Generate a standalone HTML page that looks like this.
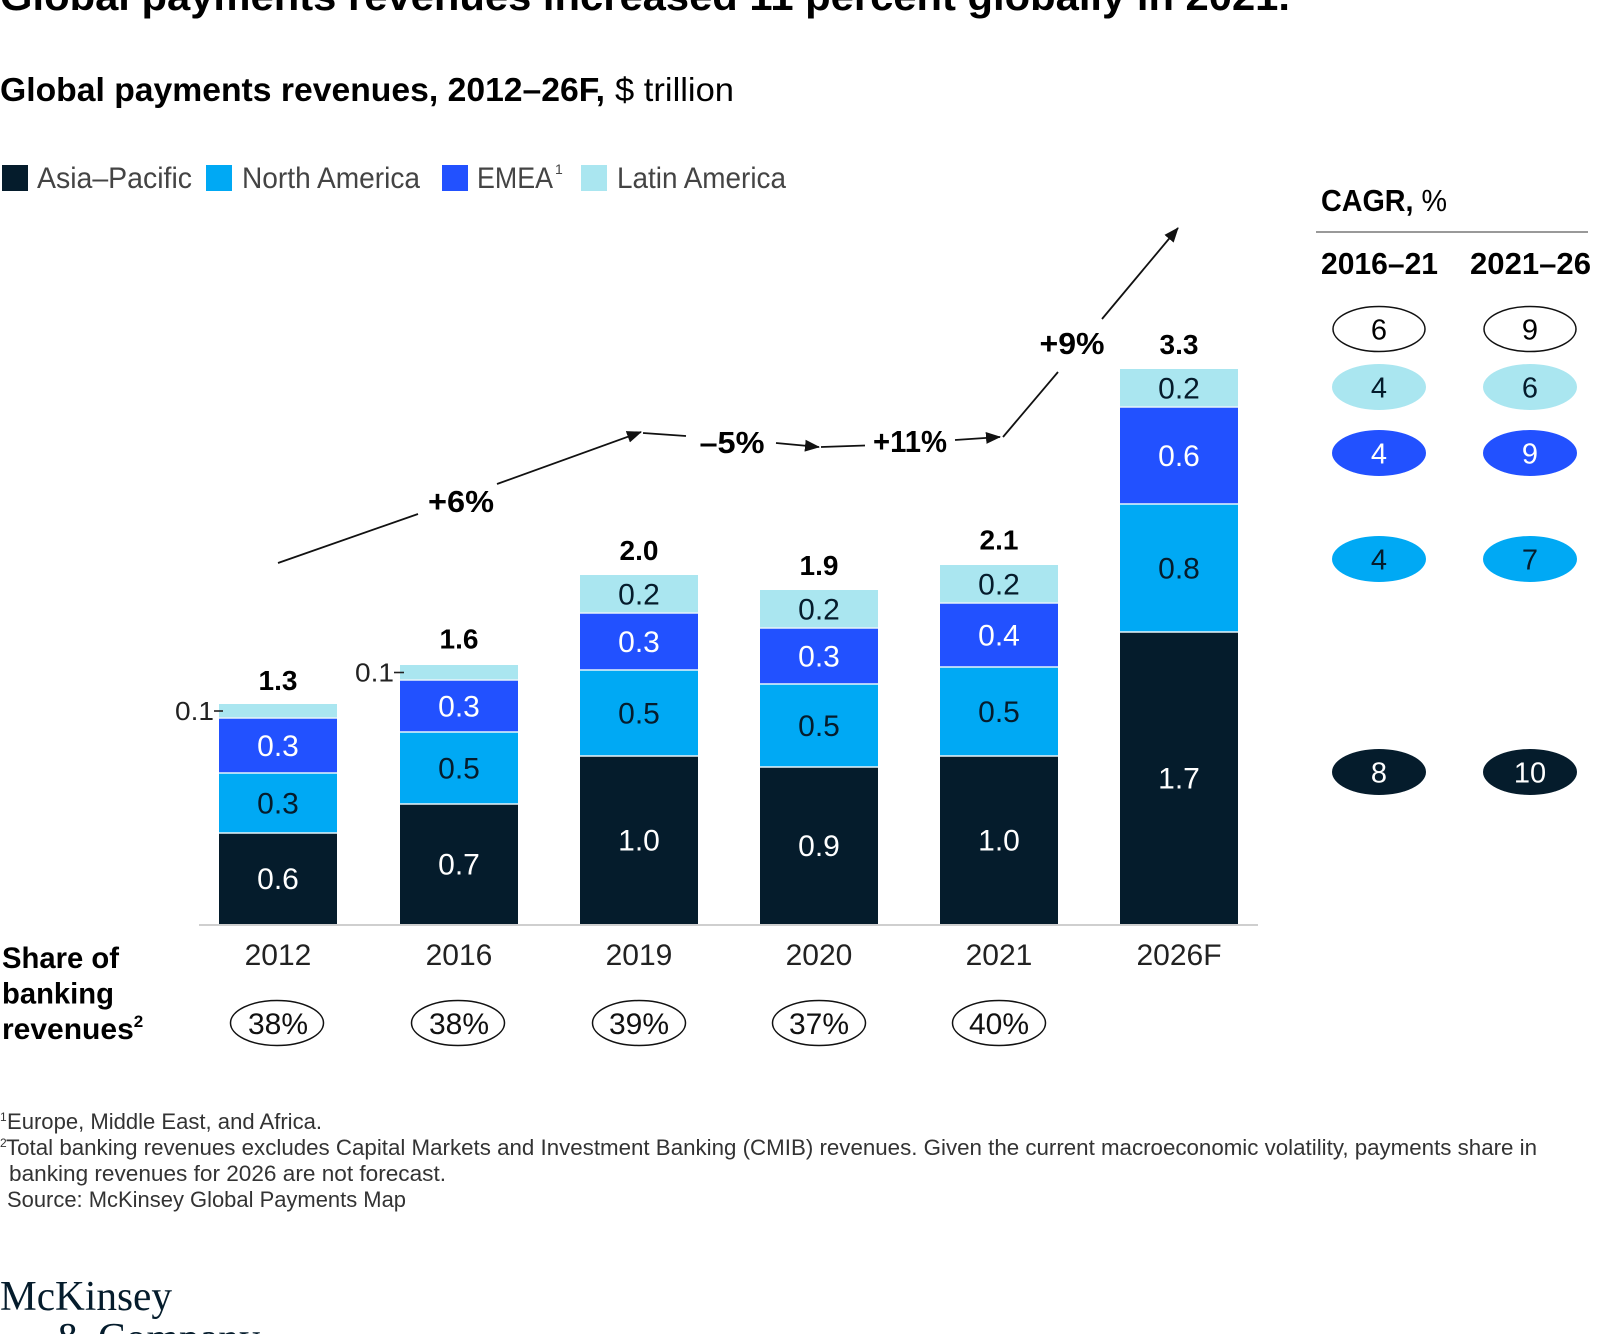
<!DOCTYPE html>
<html>
<head>
<meta charset="utf-8">
<style>
html,body{margin:0;padding:0;background:#fff;}
svg{display:block;}
text{font-family:"Liberation Sans",Arial,sans-serif;}
</style>
</head>
<body>
<svg width="1600" height="1334" viewBox="0 0 1600 1334" xmlns="http://www.w3.org/2000/svg">
<defs>
<marker id="ah" markerWidth="15" markerHeight="12" refX="14" refY="6" orient="auto" markerUnits="userSpaceOnUse">
<path d="M0,0 L15,6 L0,12 z" fill="#111"/>
</marker>
</defs>
<rect width="1600" height="1334" fill="#fff"/>

<!-- Title (cut off) -->
<text x="0" y="10" font-size="40" font-weight="bold" fill="#000" textLength="1290" lengthAdjust="spacingAndGlyphs">Global payments revenues increased 11 percent globally in 2021.</text>

<!-- Subtitle -->
<text x="0" y="101" font-size="33" font-weight="bold" fill="#000" textLength="605" lengthAdjust="spacingAndGlyphs">Global payments revenues, 2012–26F,</text>
<text x="615" y="101" font-size="33" fill="#000" textLength="119" lengthAdjust="spacingAndGlyphs">$ trillion</text>

<!-- Legend -->
<rect x="2" y="165" width="26" height="26" fill="#051c2c"/>
<text x="37" y="188" font-size="30" fill="#444" textLength="155" lengthAdjust="spacingAndGlyphs">Asia–Pacific</text>
<rect x="206" y="165" width="26" height="26" fill="#00a9f4"/>
<text x="242" y="188" font-size="30" fill="#444" textLength="178" lengthAdjust="spacingAndGlyphs">North America</text>
<rect x="442" y="165" width="26" height="26" fill="#2251ff"/>
<text x="477" y="188" font-size="30" fill="#444" textLength="76" lengthAdjust="spacingAndGlyphs">EMEA</text>
<text x="555" y="174" font-size="14" fill="#444">1</text>
<rect x="581" y="165" width="26" height="26" fill="#aae6f0"/>
<text x="617" y="188" font-size="30" fill="#444" textLength="169" lengthAdjust="spacingAndGlyphs">Latin America</text>

<!-- Bars -->
<g>
<rect x="219" y="704" width="118" height="14" fill="#aae6f0"/>
<rect x="219" y="718" width="118" height="55" fill="#2251ff"/>
<rect x="219" y="773" width="118" height="60" fill="#00a9f4"/>
<rect x="219" y="833" width="118" height="91" fill="#051c2c"/>
<rect x="400" y="665" width="118" height="15" fill="#aae6f0"/>
<rect x="400" y="680" width="118" height="52" fill="#2251ff"/>
<rect x="400" y="732" width="118" height="72" fill="#00a9f4"/>
<rect x="400" y="804" width="118" height="120" fill="#051c2c"/>
<rect x="580" y="575" width="118" height="38" fill="#aae6f0"/>
<rect x="580" y="613" width="118" height="57" fill="#2251ff"/>
<rect x="580" y="670" width="118" height="86" fill="#00a9f4"/>
<rect x="580" y="756" width="118" height="168" fill="#051c2c"/>
<rect x="760" y="590" width="118" height="38" fill="#aae6f0"/>
<rect x="760" y="628" width="118" height="56" fill="#2251ff"/>
<rect x="760" y="684" width="118" height="83" fill="#00a9f4"/>
<rect x="760" y="767" width="118" height="157" fill="#051c2c"/>
<rect x="940" y="565" width="118" height="38" fill="#aae6f0"/>
<rect x="940" y="603" width="118" height="64" fill="#2251ff"/>
<rect x="940" y="667" width="118" height="89" fill="#00a9f4"/>
<rect x="940" y="756" width="118" height="168" fill="#051c2c"/>
<rect x="1120" y="369" width="118" height="38" fill="#aae6f0"/>
<rect x="1120" y="407" width="118" height="97" fill="#2251ff"/>
<rect x="1120" y="504" width="118" height="128" fill="#00a9f4"/>
<rect x="1120" y="632" width="118" height="292" fill="#051c2c"/>
</g>

<!-- separators -->
<g stroke="#e8f4fa" stroke-width="1.6">
<line x1="219" y1="718" x2="337" y2="718"/><line x1="219" y1="773" x2="337" y2="773"/><line x1="219" y1="833" x2="337" y2="833"/>
<line x1="400" y1="680" x2="518" y2="680"/><line x1="400" y1="732" x2="518" y2="732"/><line x1="400" y1="804" x2="518" y2="804"/>
<line x1="580" y1="613" x2="698" y2="613"/><line x1="580" y1="670" x2="698" y2="670"/><line x1="580" y1="756" x2="698" y2="756"/>
<line x1="760" y1="628" x2="878" y2="628"/><line x1="760" y1="684" x2="878" y2="684"/><line x1="760" y1="767" x2="878" y2="767"/>
<line x1="940" y1="603" x2="1058" y2="603"/><line x1="940" y1="667" x2="1058" y2="667"/><line x1="940" y1="756" x2="1058" y2="756"/>
<line x1="1120" y1="407" x2="1238" y2="407"/><line x1="1120" y1="504" x2="1238" y2="504"/><line x1="1120" y1="632" x2="1238" y2="632"/>
</g>

<!-- axis -->
<line x1="199" y1="925" x2="1258" y2="925" stroke="#cfcfcf" stroke-width="2"/>

<!-- segment labels -->
<g font-size="30" text-anchor="middle">
<text x="278" y="756" fill="#fff">0.3</text>
<text x="278" y="813.5" fill="#051c2c">0.3</text>
<text x="278" y="889" fill="#fff">0.6</text>

<text x="459" y="716.5" fill="#fff">0.3</text>
<text x="459" y="778.5" fill="#051c2c">0.5</text>
<text x="459" y="874.5" fill="#fff">0.7</text>

<text x="639" y="604.5" fill="#051c2c">0.2</text>
<text x="639" y="652" fill="#fff">0.3</text>
<text x="639" y="723.5" fill="#051c2c">0.5</text>
<text x="639" y="850.5" fill="#fff">1.0</text>

<text x="819" y="619.5" fill="#051c2c">0.2</text>
<text x="819" y="666.5" fill="#fff">0.3</text>
<text x="819" y="736" fill="#051c2c">0.5</text>
<text x="819" y="856" fill="#fff">0.9</text>

<text x="999" y="594.5" fill="#051c2c">0.2</text>
<text x="999" y="645.5" fill="#fff">0.4</text>
<text x="999" y="722" fill="#051c2c">0.5</text>
<text x="999" y="850.5" fill="#fff">1.0</text>

<text x="1179" y="398.5" fill="#051c2c">0.2</text>
<text x="1179" y="466" fill="#fff">0.6</text>
<text x="1179" y="578.5" fill="#051c2c">0.8</text>
<text x="1179" y="788.5" fill="#fff">1.7</text>
</g>

<!-- 0.1 side labels -->
<text x="214" y="720" font-size="26" fill="#222" text-anchor="end" textLength="39" lengthAdjust="spacingAndGlyphs">0.1</text>
<line x1="214" y1="711" x2="223" y2="711" stroke="#222" stroke-width="1.6"/>
<text x="394" y="681.5" font-size="26" fill="#222" text-anchor="end" textLength="39" lengthAdjust="spacingAndGlyphs">0.1</text>
<line x1="394" y1="672.5" x2="404" y2="672.5" stroke="#222" stroke-width="1.6"/>

<!-- totals -->
<g font-size="28" font-weight="bold" text-anchor="middle" fill="#000">
<text x="278" y="690">1.3</text>
<text x="459" y="648.5">1.6</text>
<text x="639" y="560">2.0</text>
<text x="819" y="575">1.9</text>
<text x="999" y="549.5">2.1</text>
<text x="1179" y="354">3.3</text>
</g>

<!-- growth arrows -->
<g stroke="#111" stroke-width="1.8" fill="none">
<line x1="278" y1="563" x2="418" y2="514"/>
<line x1="497" y1="484" x2="641" y2="432" marker-end="url(#ah)"/>
<line x1="643" y1="433" x2="686" y2="436"/>
<line x1="776" y1="443" x2="819" y2="447" marker-end="url(#ah)"/>
<line x1="821" y1="447" x2="865" y2="445.5"/>
<line x1="955" y1="440" x2="1000" y2="437" marker-end="url(#ah)"/>
<line x1="1003" y1="437" x2="1058" y2="372"/>
<line x1="1102" y1="319" x2="1178" y2="228" marker-end="url(#ah)"/>
</g>
<g font-size="31" font-weight="bold" text-anchor="middle" fill="#000">
<text x="461" y="512" textLength="66" lengthAdjust="spacingAndGlyphs">+6%</text>
<text x="732" y="453" textLength="65" lengthAdjust="spacingAndGlyphs">–5%</text>
<text x="910" y="452" textLength="74" lengthAdjust="spacingAndGlyphs">+11%</text>
<text x="1072" y="354" textLength="65" lengthAdjust="spacingAndGlyphs">+9%</text>
</g>

<!-- CAGR panel -->
<text x="1321" y="211" font-size="31" fill="#000" textLength="126" lengthAdjust="spacingAndGlyphs"><tspan font-weight="bold">CAGR,</tspan> %</text>
<line x1="1316" y1="232" x2="1588" y2="232" stroke="#999" stroke-width="2"/>
<text x="1321" y="274" font-size="31" font-weight="bold" fill="#000" textLength="117" lengthAdjust="spacingAndGlyphs">2016–21</text>
<text x="1470" y="274" font-size="31" font-weight="bold" fill="#000" textLength="121" lengthAdjust="spacingAndGlyphs">2021–26</text>

<g>
<ellipse cx="1379" cy="329" rx="46" ry="22.5" fill="#fff" stroke="#111" stroke-width="1.5"/>
<ellipse cx="1530" cy="329" rx="46" ry="22.5" fill="#fff" stroke="#111" stroke-width="1.5"/>
<ellipse cx="1379" cy="387" rx="47" ry="23" fill="#aae6f0"/>
<ellipse cx="1530" cy="387" rx="47" ry="23" fill="#aae6f0"/>
<ellipse cx="1379" cy="453" rx="47" ry="23" fill="#2251ff"/>
<ellipse cx="1530" cy="453" rx="47" ry="23" fill="#2251ff"/>
<ellipse cx="1379" cy="559" rx="47" ry="23" fill="#00a9f4"/>
<ellipse cx="1530" cy="559" rx="47" ry="23" fill="#00a9f4"/>
<ellipse cx="1379" cy="772" rx="47" ry="23" fill="#051c2c"/>
<ellipse cx="1530" cy="772" rx="47" ry="23" fill="#051c2c"/>
</g>
<g font-size="29" text-anchor="middle">
<text x="1379" y="339.5" fill="#000">6</text>
<text x="1530" y="339.5" fill="#000">9</text>
<text x="1379" y="397.5" fill="#051c2c">4</text>
<text x="1530" y="397.5" fill="#051c2c">6</text>
<text x="1379" y="463.5" fill="#fff">4</text>
<text x="1530" y="463.5" fill="#fff">9</text>
<text x="1379" y="569.5" fill="#051c2c">4</text>
<text x="1530" y="569.5" fill="#051c2c">7</text>
<text x="1379" y="782.5" fill="#fff">8</text>
<text x="1530" y="782.5" fill="#fff">10</text>
</g>

<!-- year labels -->
<g font-size="30" text-anchor="middle" fill="#222">
<text x="278" y="965">2012</text>
<text x="459" y="965">2016</text>
<text x="639" y="965">2019</text>
<text x="819" y="965">2020</text>
<text x="999" y="965">2021</text>
<text x="1179" y="965">2026F</text>
</g>

<!-- share of banking revenues -->
<g font-size="30" font-weight="bold" fill="#000">
<text x="2" y="968" textLength="117" lengthAdjust="spacingAndGlyphs">Share of</text>
<text x="2" y="1003.5" textLength="112" lengthAdjust="spacingAndGlyphs">banking</text>
<text x="2" y="1039">revenues<tspan font-size="17" dy="-12">2</tspan></text>
</g>
<g fill="none" stroke="#111" stroke-width="1.5">
<ellipse cx="277" cy="1023" rx="46.5" ry="22.5"/>
<ellipse cx="458" cy="1023" rx="46.5" ry="22.5"/>
<ellipse cx="639" cy="1023" rx="46.5" ry="22.5"/>
<ellipse cx="819" cy="1023" rx="46.5" ry="22.5"/>
<ellipse cx="999" cy="1023" rx="46.5" ry="22.5"/>
</g>
<g font-size="30" text-anchor="middle" fill="#111">
<text x="278" y="1034">38%</text>
<text x="459" y="1034">38%</text>
<text x="639" y="1034">39%</text>
<text x="819" y="1034">37%</text>
<text x="999" y="1034">40%</text>
</g>

<!-- footnotes -->
<g font-size="22" fill="#333">
<text x="0" y="1121" font-size="12">1</text>
<text x="7" y="1129" textLength="315" lengthAdjust="spacingAndGlyphs">Europe, Middle East, and Africa.</text>
<text x="0" y="1147" font-size="12">2</text>
<text x="6" y="1155" textLength="1531" lengthAdjust="spacingAndGlyphs">Total banking revenues excludes Capital Markets and Investment Banking (CMIB) revenues. Given the current macroeconomic volatility, payments share in</text>
<text x="9" y="1181" textLength="437" lengthAdjust="spacingAndGlyphs">banking revenues for 2026 are not forecast.</text>
<text x="7" y="1207" textLength="399" lengthAdjust="spacingAndGlyphs">Source: McKinsey Global Payments Map</text>
</g>

<!-- logo -->
<text x="0" y="1310" font-size="42" fill="#051c2c" textLength="172" lengthAdjust="spacingAndGlyphs" style="font-family:'Liberation Serif',serif">McKinsey</text>
<text x="55" y="1352" font-size="42" fill="#051c2c" textLength="205" lengthAdjust="spacingAndGlyphs" style="font-family:'Liberation Serif',serif">&amp; Company</text>
</svg>
</body>
</html>
